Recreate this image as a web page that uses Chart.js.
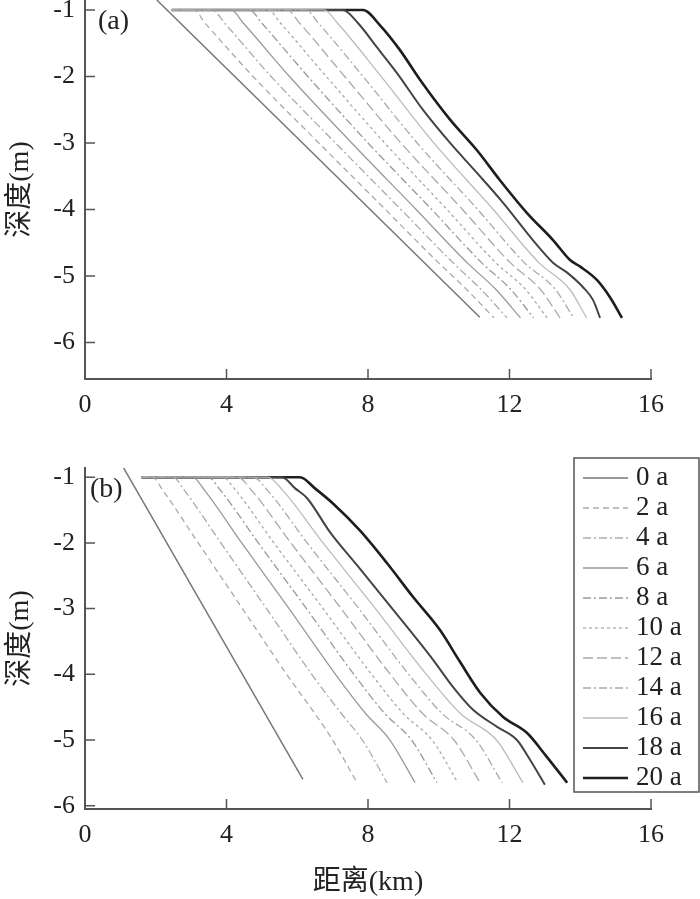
<!DOCTYPE html>
<html>
<head>
<meta charset="utf-8">
<script src="https://cdn.jsdelivr.net/npm/chart.js@4"></script>
<style>
  body { margin: 0; background: #fff; }
  .wrap { position: absolute; left: 0; width: 700px; }
</style>
</head>
<body>
<div class="wrap" style="top:0;height:440px"><canvas id="chartA" width="700" height="440"></canvas></div>
<div class="wrap" style="top:440px;height:459px"><canvas id="chartB" width="700" height="459"></canvas></div>
<script>
    // profile labels, ticks
    const years = ['0 a', '2 a', '4 a', '6 a', '8 a', '10 a', '12 a', '14 a', '16 a', '18 a', '20 a'];
    const xTicks = [0, 4, 8, 12, 16];
    const yTicks = [-1, -2, -3, -4, -5, -6];

    // panel (a): [distance km, depth m]
    const a0 = [[2.03, -0.85], [11.16, -5.62]];
    const a2 = [[2.45, -1], [3.07, -1], [3.40, -1.2], [4.75, -2], [6.61, -3], [8.49, -4], [9.99, -4.8], [10.78, -5.2], [11.56, -5.63]];
    const a4 = [[2.45, -1], [3.60, -1], [3.95, -1.2], [5.26, -2], [7.08, -3], [8.93, -4], [10.40, -4.8], [11.19, -5.2], [11.93, -5.63]];
    const a6 = [[2.45, -1], [4.13, -1], [4.48, -1.2], [5.78, -2], [7.54, -3], [9.36, -4], [10.80, -4.8], [11.61, -5.2], [12.31, -5.63]];
    const a8 = [[2.45, -1], [4.65, -1], [5.00, -1.2], [6.30, -2], [8.00, -3], [9.80, -4], [11.21, -4.8], [12.03, -5.2], [12.68, -5.63]];
    const a10 = [[2.45, -1], [5.18, -1], [5.53, -1.2], [6.82, -2], [8.47, -3], [10.23, -4], [11.61, -4.8], [12.45, -5.2], [13.06, -5.63]];
    const a12 = [[2.45, -1], [5.71, -1], [6.07, -1.2], [7.34, -2], [8.93, -3], [10.67, -4], [12.02, -4.8], [12.87, -5.2], [13.43, -5.63]];
    const a14 = [[2.45, -1], [6.24, -1], [6.60, -1.2], [7.86, -2], [9.39, -3], [11.10, -4], [12.42, -4.8], [13.29, -5.2], [13.81, -5.63]];
    const a16 = [[2.45, -1], [6.76, -1], [7.14, -1.2], [8.37, -2], [9.86, -3], [11.54, -4], [12.83, -4.8], [13.70, -5.2], [14.18, -5.63]];
    const a18 = [[2.45, -1], [7.29, -1], [7.72, -1.20], [8.25, -1.56], [8.82, -1.95], [9.55, -2.50], [10.32, -3.00], [11.08, -3.45], [11.82, -3.90], [12.66, -4.46], [13.23, -4.80], [13.63, -4.95], [14.08, -5.17], [14.36, -5.36], [14.56, -5.63]];
    const a20 = [[2.45, -1], [7.86, -1], [8.34, -1.23], [8.90, -1.60], [9.47, -2.05], [10.32, -2.65], [11.08, -3.11], [11.73, -3.56], [12.49, -4.05], [13.23, -4.46], [13.71, -4.76], [14.00, -4.86], [14.47, -5.06], [14.84, -5.32], [15.18, -5.63]];

    // panel (b)
    const b0 = [[1.05, -0.82], [6.16, -5.60]];
    const b2 = [[1.60, -1], [1.90, -1], [2.20, -1.2], [3.20, -2], [4.45, -3], [5.70, -4], [6.50, -4.6], [7.00, -5.0], [7.69, -5.65]];
    const b4 = [[1.60, -1], [2.49, -1], [2.81, -1.2], [3.84, -2], [5.13, -3], [6.41, -4], [7.25, -4.6], [7.84, -5.0], [8.54, -5.65]];
    const b6 = [[1.60, -1], [3.04, -1], [3.38, -1.2], [4.43, -2], [5.77, -3], [7.08, -4], [7.94, -4.6], [8.62, -5.0], [9.33, -5.65]];
    const b8 = [[1.60, -1], [3.47, -1], [3.83, -1.2], [4.90, -2], [6.26, -3], [7.60, -4], [8.48, -4.6], [9.23, -5.0], [9.95, -5.65]];
    const b10 = [[1.60, -1], [3.88, -1], [4.26, -1.2], [5.34, -2], [6.73, -3], [8.10, -4], [9.00, -4.6], [9.81, -5.0], [10.54, -5.65]];
    const b12 = [[1.60, -1], [4.32, -1], [4.71, -1.2], [5.82, -2], [7.24, -3], [8.63, -4], [9.55, -4.6], [10.43, -5.0], [11.17, -5.65]];
    const b14 = [[1.60, -1], [4.75, -1], [5.16, -1.2], [6.28, -2], [7.74, -3], [9.15, -4], [10.10, -4.6], [11.05, -5.0], [11.79, -5.65]];
    const b16 = [[1.60, -1], [5.16, -1], [5.59, -1.2], [6.73, -2], [8.21, -3], [9.65, -4], [10.62, -4.6], [11.63, -5.0], [12.38, -5.65]];
    const b18 = [[1.60, -1], [5.57, -1], [5.94, -1.17], [6.28, -1.32], [6.93, -1.84], [7.69, -2.34], [8.76, -3.05], [9.84, -3.78], [10.40, -4.19], [10.97, -4.54], [11.65, -4.80], [12.21, -5.00], [12.58, -5.30], [13.00, -5.68]];
    const b20 = [[1.60, -1], [6.08, -1], [6.50, -1.17], [7.01, -1.40], [7.77, -1.81], [8.54, -2.31], [9.27, -2.82], [10.04, -3.33], [10.60, -3.81], [11.17, -4.28], [11.82, -4.65], [12.49, -4.89], [13.06, -5.26], [13.63, -5.65]];

    // line styles per year
    const lineColors = ['#777', '#aaa', '#aaa', '#999', '#999', '#aaa', '#aaa', '#aaa', '#bbb', '#444', '#1e1e1e'];
    const lineWidths = [1.5, 1.3, 1.3, 1.3, 1.3, 1.3, 1.3, 1.3, 1.3, 2, 2.6];
    const lineDashes = [[], [6, 4], [8, 3, 2, 3], [], [8, 3, 2, 3], [3, 3], [10, 4], [8, 3, 2, 3], [], [], []];

    const serif = '"Liberation Serif", "Noto Sans CJK SC", serif';

    // small ticks pointing into the plot
    const innerTicks = {
        id: 'innerTicks',
        afterDraw(chart) {
            const { ctx, chartArea, scales } = chart;
            ctx.save();
            ctx.strokeStyle = '#555';
            ctx.lineWidth = 1.5;
            ctx.beginPath();
            xTicks.forEach(v => {
                if (v === 0) return;
                const px = scales.x.getPixelForValue(v);
                ctx.moveTo(px, chartArea.bottom);
                ctx.lineTo(px, chartArea.bottom - 10);
            });
            yTicks.forEach(v => {
                const py = scales.y.getPixelForValue(v);
                ctx.moveTo(chartArea.left, py);
                ctx.lineTo(chartArea.left + 10, py);
            });
            ctx.stroke();
            ctx.restore();
        }
    };

    const panelLabel = {
        id: 'panelLabel',
        afterDraw(chart, args, opts) {
            const ctx = chart.ctx;
            ctx.save();
            ctx.font = '28px ' + serif;
            ctx.fillStyle = '#222';
            ctx.textBaseline = 'middle';
            ctx.fillText(opts.text, opts.x, opts.y);
            ctx.restore();
        }
    };

    // boxed legend with line samples (panel b only)
    const boxLegend = {
        id: 'boxLegend',
        afterDraw(chart, args, opts) {
            if (!opts.show) return;
            const ctx = chart.ctx;
            const left = 574, top = 18, w = 125, h = 334;
            ctx.save();
            ctx.fillStyle = '#fff';
            ctx.fillRect(left, top, w, h);
            ctx.strokeStyle = '#555';
            ctx.lineWidth = 1.5;
            ctx.strokeRect(left, top, w, h);
            ctx.font = '27px ' + serif;
            ctx.textBaseline = 'middle';
            chart.data.datasets.forEach((ds, i) => {
                const y = top + 20 + i * 30;
                ctx.strokeStyle = ds.borderColor;
                ctx.lineWidth = ds.borderWidth;
                ctx.setLineDash(ds.borderDash);
                ctx.beginPath();
                ctx.moveTo(left + 9, y);
                ctx.lineTo(left + 54, y);
                ctx.stroke();
                ctx.setLineDash([]);
                ctx.fillStyle = '#222';
                ctx.fillText(ds.label, left + 62, y);
            });
            ctx.restore();
        }
    };

    function makeChart(id, series, yMin, yMax, cfg) {
        const datasets = series.map((s, i) => ({
            label: years[i],
            data: s.map(p => ({ x: p[0], y: p[1] })),
            borderColor: lineColors[i],
            borderWidth: lineWidths[i],
            borderDash: lineDashes[i],
            pointRadius: 0,
            fill: false,
            cubicInterpolationMode: 'monotone'
        }));
        return new Chart(document.getElementById(id), {
            type: 'line',
            data: { datasets: datasets },
            options: {
                responsive: false,
                animation: false,
                devicePixelRatio: 1,
                layout: { padding: { top: cfg.padTop, right: 49, bottom: 0, left: 0 } },
                plugins: {
                    legend: { display: false },
                    tooltip: { enabled: false },
                    panelLabel: cfg.label,
                    boxLegend: { show: cfg.legend }
                },
                scales: {
                    x: {
                        type: 'linear',
                        min: 0,
                        max: 16,
                        grid: { display: true, drawOnChartArea: false, drawTicks: false },
                        border: { display: true, color: '#555', width: 2 },
                        ticks: { padding: 11, color: '#222', font: { family: serif, size: 26 }, callback: v => String(v) },
                        afterBuildTicks: s => { s.ticks = xTicks.map(v => ({ value: v })); },
                        afterFit: s => { s.height = cfg.xHeight; s.paddingLeft = 0; s.paddingRight = 0; },
                        title: {
                            display: cfg.xTitle,
                            text: '距离(km)',
                            color: '#222',
                            padding: { top: 0, bottom: 0 },
                            font: { family: serif, size: 28 }
                        }
                    },
                    y: {
                        type: 'linear',
                        min: yMin,
                        max: yMax,
                        grid: { display: true, drawOnChartArea: false, drawTicks: false },
                        border: { display: true, color: '#555', width: 2 },
                        ticks: { padding: 10, color: '#222', font: { family: serif, size: 26 }, callback: v => String(v) },
                        afterBuildTicks: s => { s.ticks = yTicks.map(v => ({ value: v })); },
                        afterFit: s => { s.width = 85; s.paddingTop = 0; s.paddingBottom = 0; },
                        title: {
                            display: true,
                            text: '深度(m)',
                            color: '#222',
                            padding: { top: 4, bottom: 0 },
                            font: { family: serif, size: 28 }
                        }
                    }
                }
            },
            plugins: [innerTicks, panelLabel, boxLegend]
        });
    }

    makeChart('chartA', [a0, a2, a4, a6, a8, a10, a12, a14, a16, a18, a20], -6.55, -0.85,
        { padTop: 0, xHeight: 61, xTitle: false, legend: false, label: { text: '(a)', x: 98, y: 22 } });
    makeChart('chartB', [b0, b2, b4, b6, b8, b10, b12, b14, b16, b18, b20], -6.05, -0.86,
        { padTop: 28, xHeight: 90, xTitle: true, legend: true, label: { text: '(b)', x: 90, y: 50 } });
</script>
</body>
</html>
